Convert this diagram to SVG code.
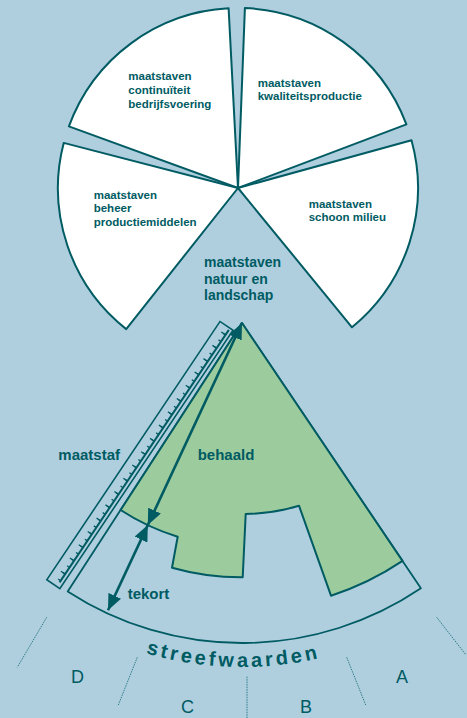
<svg xmlns="http://www.w3.org/2000/svg" width="467" height="718" viewBox="0 0 467 718">
  <style>
    .pie { fill: #ffffff; stroke: #005b63; stroke-width: 2; stroke-linejoin: round; }
    .edge { fill: none; stroke: #005b63; stroke-width: 1.8; stroke-linejoin: round; }
    .t { font-family: "Liberation Sans", Arial, sans-serif; font-weight: bold; fill: #005b63; }
    .s { font-size: 11.5px; }
    .m { font-size: 14px; }
    .l { font-size: 15px; }
    .abc { font-family: "Liberation Sans", Arial, sans-serif; font-size: 18px; fill: #005b63; text-anchor: middle; }
    .arrow { stroke: #005b63; stroke-width: 2.6; fill: none; marker-start: url(#head); marker-end: url(#head); }
    .div { stroke: #2f7b86; stroke-width: 1; stroke-dasharray: 1.5 1; fill: none; }
  </style>
  <defs>
    <marker id="head" viewBox="0 0 16 14" refX="16" refY="7" markerWidth="16" markerHeight="14" markerUnits="userSpaceOnUse" orient="auto-start-reverse">
      <path d="M0,0 L16,7 L0,14 Z" fill="#005b63"/>
    </marker>
    <path id="arcText" d="M62.3,616.3 A344,344 0 0 0 406.2,625.3"/>
  </defs>

  <rect x="0" y="0" width="467" height="718" fill="#afcfdf"/>

  <!-- pie of criteria, centre 238,188 -->
  <g id="continuiteit">
    <path class="pie" d="M238,188 L68.9,126.4 A180,180 0 0 1 228.6,8.3 Z"/>
    <text class="t s" x="128.3" y="80.3">maatstaven</text>
    <text class="t s" x="128.3" y="94">continuïteit</text>
    <text class="t s" x="128.3" y="107.7">bedrijfsvoering</text>
  </g>
  <g id="kwaliteit">
    <path class="pie" d="M238,188 L244.9,8.1 A180,180 0 0 1 406.4,124.4 Z"/>
    <text class="t s" x="257.7" y="86.7">maatstaven</text>
    <text class="t s" x="257.7" y="100.3">kwaliteitsproductie</text>
  </g>
  <g id="milieu">
    <path class="pie" d="M238,188 L411.5,140.2 A180,180 0 0 1 352,327.3 Z"/>
    <text class="t s" x="308.7" y="207.7">maatstaven</text>
    <text class="t s" x="308.7" y="221.3">schoon milieu</text>
  </g>
  <g id="beheer">
    <path class="pie" d="M238,188 L126.2,329.1 A180,180 0 0 1 63.7,142.9 Z"/>
    <text class="t s" x="93.7" y="198.7">maatstaven</text>
    <text class="t s" x="93.7" y="212.4">beheer</text>
    <text class="t s" x="93.7" y="226.1">productiemiddelen</text>
  </g>
  <g id="natuur">
    <text class="t m" x="204" y="266.7">maatstaven</text>
    <text class="t m" x="204" y="283.7">natuur en</text>
    <text class="t m" x="204" y="300">landschap</text>
  </g>

  <!-- enlarged slice: target sector and achieved part -->
  <g id="streefwaarden">
    <path class="edge" d="M242,323 L67.7,591.4 A320,320 0 0 0 420.9,588.3 Z"/>
    <text class="t" font-size="20" letter-spacing="3.2" text-anchor="middle"><textPath href="#arcText" startOffset="50%">streefwaarden</textPath></text>
  </g>
  <g id="behaald">
    <path d="M242,323 L120.6,510 A223,223 0 0 0 177.7,536.7 L172,567.7 A254,254 0 0 0 242.7,577.3 L245.7,514 A191,191 0 0 0 299,505.7 L331,595.7 A287,287 0 0 0 402.5,560.9 Z" fill="#9ccb9e" stroke="#005b63" stroke-width="2" stroke-linejoin="round"/>
    <text class="t l" x="197.7" y="460">behaald</text>
  </g>

  <!-- measuring rod -->
  <g id="maatstaf">
    <g transform="translate(220,321.5) rotate(123.84)">
      <rect x="0" y="-15.7" width="311" height="15.7" fill="none" stroke="#005b63" stroke-width="1.6"/>
      <line x1="2" y1="-12" x2="306" y2="-12" stroke="#005b63" stroke-width="2"/>
      <line x1="7.4" y1="-10.5" x2="306" y2="-10.5" stroke="#005b63" stroke-width="3" stroke-dasharray="1.3 6.7"/>
      <line x1="7.4" y1="-9.5" x2="306" y2="-9.5" stroke="#005b63" stroke-width="5" stroke-dasharray="1.3 14.7"/>
    </g>
    <text class="t l" x="58.3" y="460">maatstaf</text>
  </g>

  <!-- measured distances -->
  <g id="connectors">
    <line class="arrow" x1="242" y1="323" x2="147.8" y2="525.1"/>
    <line class="arrow" x1="147.8" y1="525.1" x2="108" y2="610.3"/>
  </g>
  <g id="tekort">
    <text class="t l" x="127.7" y="598.5">tekort</text>
  </g>

  <!-- class boundaries -->
  <g id="klassen">
    <line class="div" x1="46.7" y1="617.3" x2="17.3" y2="667.3"/>
    <line class="div" x1="137.3" y1="657.3" x2="118.3" y2="705"/>
    <line class="div" x1="247" y1="676.7" x2="247" y2="718"/>
    <line class="div" x1="346.7" y1="657.3" x2="365.7" y2="705"/>
    <line class="div" x1="436.7" y1="617.3" x2="466" y2="655"/>
    <text class="abc" x="77.5" y="683">D</text>
    <text class="abc" x="187.5" y="713">C</text>
    <text class="abc" x="306" y="713">B</text>
    <text class="abc" x="402" y="683">A</text>
  </g>
</svg>
